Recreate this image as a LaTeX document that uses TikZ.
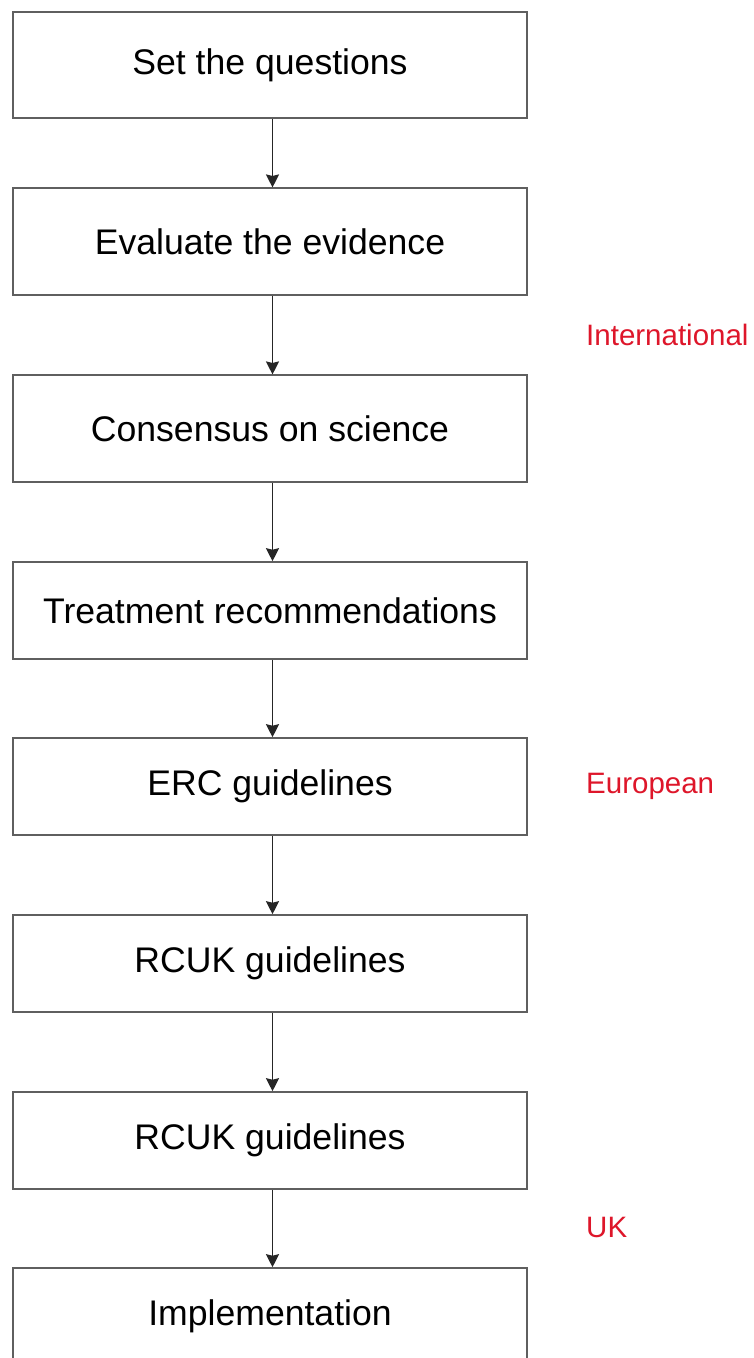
\documentclass[tikz,border=0pt]{standalone}
\usepackage{fontspec}
\setmainfont{Liberation Sans}
\usetikzlibrary{arrows.meta}
\definecolor{labred}{RGB}{222,22,42}
\definecolor{boxgray}{RGB}{95,95,95}
\tikzset{
  stepbox/.style={draw=boxgray, line width=1.6pt, minimum width=514pt, inner sep=0pt,
    font=\fontsize{35.6}{40}\selectfont, text=black},
  tall/.style={minimum height=106.5pt},
  short/.style={minimum height=97pt},
  flow/.style={draw=black!85, line width=1.5pt, -{Stealth[length=13pt,width=13pt,inset=1.5pt]}},
  region/.style={anchor=west, text=labred, font=\fontsize{29.5}{34}\selectfont, inner sep=0pt}
}
\begin{document}
\begin{tikzpicture}[x=1pt,y=-1pt]
\clip (0,0) rectangle (753,1358);
\fill[white] (0,0) rectangle (753,1358);
\node[stepbox,tall]  (b1) at (270,65)    {Set the questions};
\node[stepbox,tall]  (b2) at (270,241.5) {Evaluate the evidence};
\node[stepbox,tall]  (b3) at (270,428.5) {Consensus on science};
\node[stepbox,short] (b4) at (270,610.5) {Treatment recommendations};
\node[stepbox,short] (b5) at (270,786.5) {ERC guidelines};
\node[stepbox,short] (b6) at (270,963.5) {RCUK guidelines};
\node[stepbox,short] (b7) at (270,1140.5) {RCUK guidelines};
\node[stepbox,short] (b8) at (270,1316.5) {Implementation};
\foreach \a/\b in {b1/b2,b2/b3,b3/b4,b4/b5,b5/b6,b6/b7,b7/b8}
  \draw[flow] ([xshift=2.5pt]\a.south) -- ([xshift=2.5pt]\b.north);
\node[region] (intl) at (586,335) {International};
\node[region] (euro) at (586,786.5) {European};
\node[region] (uk)   at (586,1227) {UK};
\end{tikzpicture}
\end{document}
